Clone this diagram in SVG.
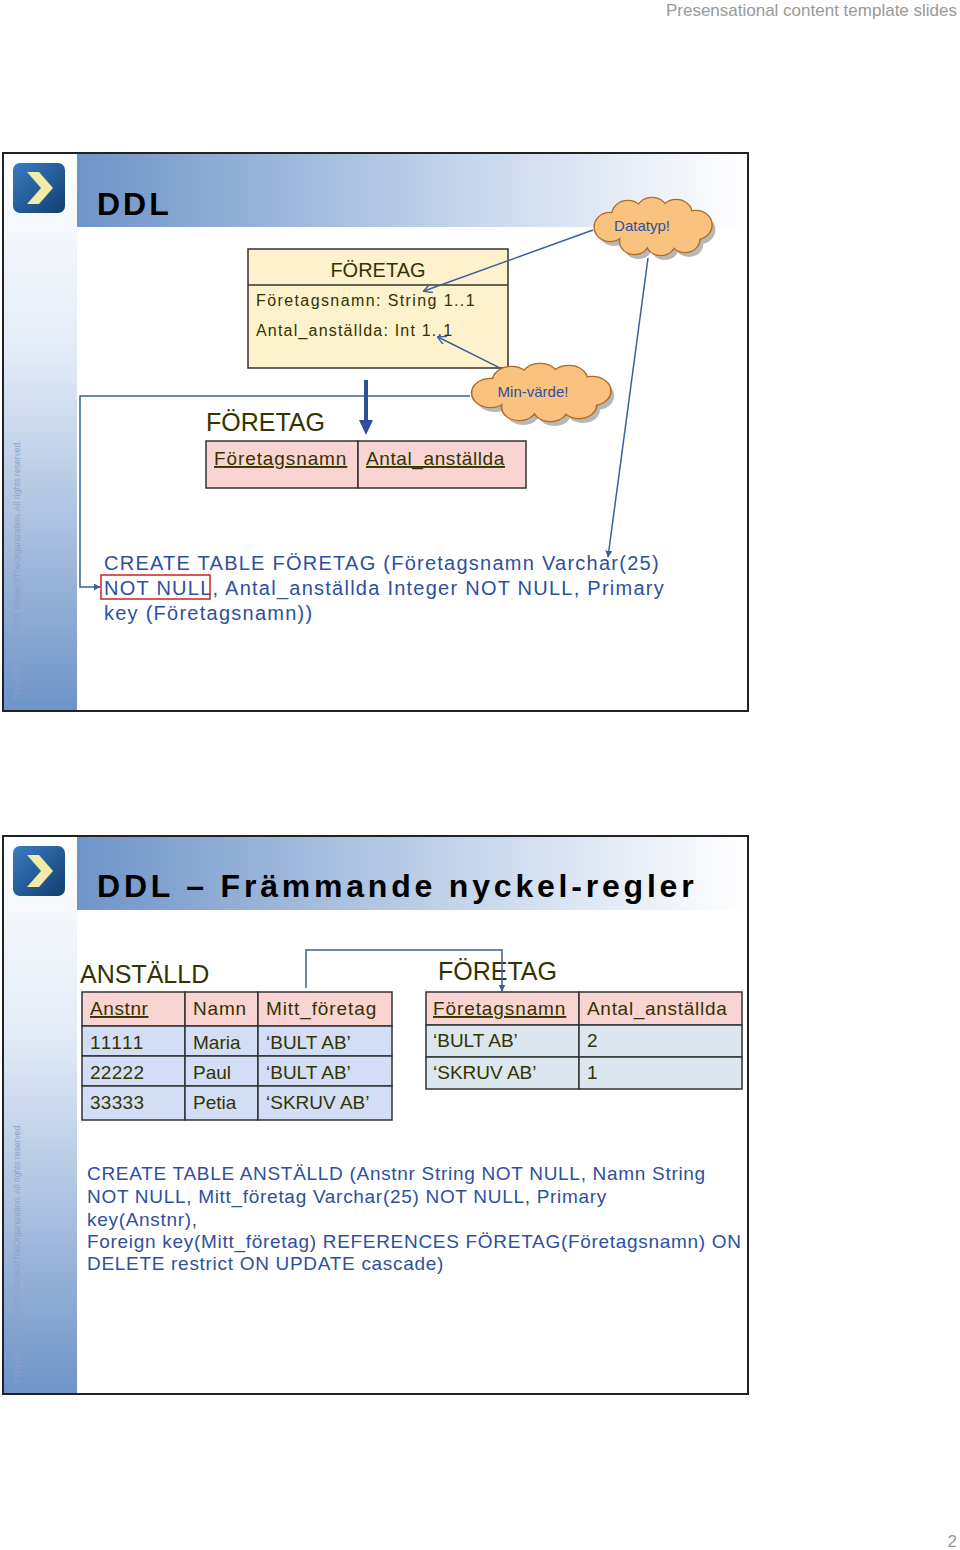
<svg xmlns="http://www.w3.org/2000/svg" width="960" height="1550" viewBox="0 0 960 1550">
<defs>
<linearGradient id="hdr" x1="0" y1="0" x2="1" y2="0"><stop offset="0" stop-color="#6E94C8"/><stop offset="0.6" stop-color="#C9D7EC"/><stop offset="1" stop-color="#FFFFFF"/></linearGradient>
<linearGradient id="side" x1="0" y1="0" x2="0" y2="1"><stop offset="0" stop-color="#FFFFFF"/><stop offset="0.35" stop-color="#E4ECF7"/><stop offset="1" stop-color="#6E94C8"/></linearGradient>
<linearGradient id="ico" x1="0" y1="0" x2="1" y2="1"><stop offset="0" stop-color="#3A7CC4"/><stop offset="1" stop-color="#123E6E"/></linearGradient>
<marker id="open" viewBox="0 0 10 10" refX="9" refY="5" markerWidth="9" markerHeight="9" orient="auto-start-reverse" markerUnits="userSpaceOnUse"><path d="M0,0 L10,5 L0,10" fill="none" stroke="#3A5F9A" stroke-width="1.5"/></marker>
<marker id="tri" viewBox="0 0 10 10" refX="9" refY="5" markerWidth="7" markerHeight="7" orient="auto" markerUnits="userSpaceOnUse"><path d="M0,0 L10,5 L0,10 z" fill="#3A5F9A"/></marker>
<g id="icon"><rect x="0" y="0" width="52" height="50" rx="7" fill="url(#ico)"/><path d="M14,9 L26,9 L40,25 L26,41 L14,41 L28,25 z" fill="#F2EBA8"/></g>
<g id="cloudShape">
<circle cx="-38" cy="0" r="14"/><circle cx="-22" cy="-12" r="14"/><circle cx="0" cy="-15" r="14"/><circle cx="22" cy="-13" r="14"/><circle cx="40" cy="-2" r="14"/><circle cx="30" cy="12" r="13"/><circle cx="8" cy="15" r="13"/><circle cx="-16" cy="14" r="13"/><ellipse cx="0" cy="0" rx="40" ry="14"/>
</g>
</defs>
<style>
text{font-family:"Liberation Sans",Arial,sans-serif}
.t{fill:#333300}
.b{fill:#2F4F9F}
.ln{stroke:#3A5F9A;stroke-width:1.5;fill:none}
.cell{stroke:#333;stroke-width:1.5}
.frame{fill:#fff;stroke:#222;stroke-width:2}
.copy{font-size:8.5px;fill:#8AA2CC}
</style>
<rect width="960" height="1550" fill="#fff"/>
<text x="957" y="16" font-size="17" fill="#999" text-anchor="end">Presensational content template slides</text>
<text x="957" y="1547" font-size="17" fill="#999" text-anchor="end">2</text>

<g id="slide1">
<rect class="frame" x="3" y="153" width="745" height="558"/>
<rect x="4" y="154" width="73" height="556" fill="url(#side)"/>
<rect x="77" y="154" width="670" height="73" fill="url(#hdr)"/>
<use href="#icon" x="13" y="163"/>
<text x="97" y="215" font-size="32" font-weight="bold" fill="#000" letter-spacing="3">DDL</text>
<text class="copy" transform="translate(20,700) rotate(-90)">Copyright © 2004-2005 NameOfTheOrganization.  All rights reserved.</text>
</g>
<g id="uml">
<rect x="248" y="249" width="260" height="119" fill="#FEF2CC" stroke="#333" stroke-width="1.5"/>
<line x1="248" y1="285" x2="508" y2="285" stroke="#333" stroke-width="1.5"/>
<text class="t" x="378" y="277" font-size="20" text-anchor="middle">FÖRETAG</text>
<text class="t" x="256" y="306" font-size="16" letter-spacing="1.4">Företagsnamn: String 1..1</text>
<text class="t" x="256" y="336" font-size="16" letter-spacing="1.2">Antal_anställda: Int 1..1</text>
</g>
<g id="table1">
<text class="t" x="206" y="431" font-size="25">FÖRETAG</text>
<rect class="cell" x="206" y="441" width="152" height="47" fill="#FAD3D3"/>
<rect class="cell" x="358" y="441" width="168" height="47" fill="#FAD3D3"/>
<text class="t" x="214" y="465" font-size="19" text-decoration="underline" letter-spacing="0.9">Företagsnamn</text>
<text class="t" x="366" y="465" font-size="19" text-decoration="underline" letter-spacing="0.6">Antal_anställda</text>
</g>
<g id="sql1" font-size="20" letter-spacing="1.25">
<text class="b" x="104" y="570">CREATE TABLE FÖRETAG (Företagsnamn Varchar(25)</text>
<text class="b" x="104" y="595">NOT NULL, Antal_anställda Integer NOT NULL, Primary</text>
<text class="b" x="104" y="620">key (Företagsnamn))</text>
<rect x="101" y="575" width="109" height="24" fill="none" stroke="#D02020" stroke-width="1.5"/>
</g>
<g id="connectors1">
<line class="ln" x1="593" y1="230" x2="424" y2="291" marker-end="url(#open)"/>
<line class="ln" x1="520" y1="378" x2="438" y2="337" marker-end="url(#open)"/>
<line class="ln" x1="648" y1="258" x2="608" y2="557" marker-end="url(#tri)"/>
<polyline class="ln" points="470,396 80,396 80,587 100,587" marker-end="url(#tri)"/>
<line x1="366" y1="380" x2="366" y2="422" stroke="#2E4F9A" stroke-width="4"/>
<path d="M359,420 L373,420 L366,435 z" fill="#2E4F9A"/>
</g>
<g id="cloud-datatyp" transform="translate(652,227)">
<use href="#cloudShape" transform="translate(4,5) scale(1.1,1)" fill="#888" opacity="0.6"/>
<use href="#cloudShape" transform="scale(1.1,1)" fill="none" stroke="#B06A20" stroke-width="2.5"/>
<use href="#cloudShape" transform="scale(1.1,1)" fill="#F9C27E"/>
<text class="b" x="-10" y="4" font-size="15" text-anchor="middle">Datatyp!</text>
</g>
<g id="cloud-min" transform="translate(540,393)">
<use href="#cloudShape" transform="translate(4,5) scale(1.3,1)" fill="#888" opacity="0.6"/>
<use href="#cloudShape" transform="scale(1.3,1)" fill="none" stroke="#B06A20" stroke-width="2.5"/>
<use href="#cloudShape" transform="scale(1.3,1)" fill="#F9C27E"/>
<text class="b" x="-7" y="4" font-size="15" text-anchor="middle">Min-värde!</text>
</g>

<g id="slide2">
<rect class="frame" x="3" y="836" width="745" height="558"/>
<rect x="4" y="837" width="73" height="556" fill="url(#side)"/>
<rect x="77" y="837" width="670" height="73" fill="url(#hdr)"/>
<use href="#icon" x="13" y="846"/>
<text x="97" y="897" font-size="32" font-weight="bold" fill="#000" letter-spacing="3.8">DDL – Främmande nyckel-regler</text>
<text class="copy" transform="translate(20,1383) rotate(-90)">Copyright © 2004-2005 NameOfTheOrganization.  All rights reserved.</text>
</g>
<g id="anstalld">
<text class="t" x="80" y="983" font-size="25">ANSTÄLLD</text>
<g fill="#FAD3D3"><rect class="cell" x="82" y="992" width="103" height="34"/><rect class="cell" x="185" y="992" width="73" height="34"/><rect class="cell" x="258" y="992" width="134" height="34"/></g>
<g fill="#D3DEF6">
<rect class="cell" x="82" y="1026" width="103" height="30"/><rect class="cell" x="185" y="1026" width="73" height="30"/><rect class="cell" x="258" y="1026" width="134" height="30"/>
<rect class="cell" x="82" y="1056" width="103" height="30"/><rect class="cell" x="185" y="1056" width="73" height="30"/><rect class="cell" x="258" y="1056" width="134" height="30"/>
<rect class="cell" x="82" y="1086" width="103" height="34"/><rect class="cell" x="185" y="1086" width="73" height="34"/><rect class="cell" x="258" y="1086" width="134" height="34"/>
</g>
<g class="t" font-size="19">
<text x="90" y="1015" text-decoration="underline" letter-spacing="0.6">Anstnr</text><text x="193" y="1015" letter-spacing="0.8">Namn</text><text x="266" y="1015" letter-spacing="0.9">Mitt_företag</text>
<text x="90" y="1049" letter-spacing="1.5">11111</text><text x="193" y="1049">Maria</text><text x="266" y="1049">‘BULT AB’</text>
<text x="90" y="1079" letter-spacing="0.3">22222</text><text x="193" y="1079">Paul</text><text x="266" y="1079">‘BULT AB’</text>
<text x="90" y="1109" letter-spacing="0.3">33333</text><text x="193" y="1109">Petia</text><text x="266" y="1109">‘SKRUV AB’</text>
</g>
</g>
<g id="foretag2">
<text class="t" x="438" y="980" font-size="25">FÖRETAG</text>
<g fill="#FAD3D3"><rect class="cell" x="426" y="992" width="153" height="33"/><rect class="cell" x="579" y="992" width="163" height="33"/></g>
<g fill="#DCE6EF">
<rect class="cell" x="426" y="1025" width="153" height="32"/><rect class="cell" x="579" y="1025" width="163" height="32"/>
<rect class="cell" x="426" y="1057" width="153" height="32"/><rect class="cell" x="579" y="1057" width="163" height="32"/>
</g>
<g class="t" font-size="19">
<text x="433" y="1015" text-decoration="underline" letter-spacing="0.9">Företagsnamn</text><text x="587" y="1015" letter-spacing="0.7">Antal_anställda</text>
<text x="433" y="1047">‘BULT AB’</text><text x="587" y="1047">2</text>
<text x="433" y="1079">‘SKRUV AB’</text><text x="587" y="1079">1</text>
</g>
</g>
<g id="connectors2">
<polyline class="ln" points="306,988 306,950 502,950 502,991" marker-end="url(#tri)"/>
</g>
<g id="sql2" font-size="19" letter-spacing="0.7">
<text class="b" x="87" y="1180">CREATE TABLE ANSTÄLLD (Anstnr String NOT NULL, Namn String</text>
<text class="b" x="87" y="1203">NOT NULL, Mitt_företag Varchar(25) NOT NULL, Primary</text>
<text class="b" x="87" y="1226">key(Anstnr),</text>
<text class="b" x="87" y="1248">Foreign key(Mitt_företag) REFERENCES FÖRETAG(Företagsnamn) ON</text>
<text class="b" x="87" y="1270">DELETE restrict ON UPDATE cascade)</text>
</g>
</svg>
